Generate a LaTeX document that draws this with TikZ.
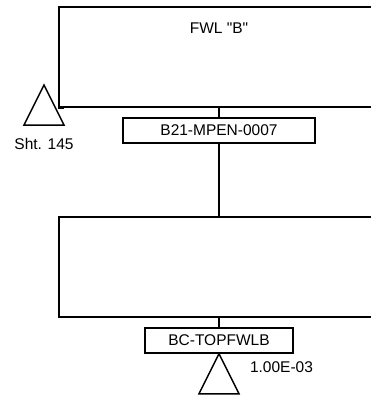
\documentclass[tikz,border=0pt]{standalone}
\usepackage{fontspec}
\setmainfont{Liberation Sans}
\usetikzlibrary{calc,positioning}
\tikzset{
    gatebox/.style={
        rectangle,
        draw=black,
        line width=1.5pt,
        minimum width=320pt,
        minimum height=100pt,
        inner sep=0pt
    },
    eventbox/.style={
        rectangle,
        draw=black,
        line width=1.5pt,
        minimum height=25pt,
        inner sep=2pt,
        font=\fontsize{15.5}{18}\selectfont
    },
    textlabel/.style={
        font=\fontsize{15.5}{18}\selectfont,
        inner sep=0pt
    },
    wire/.style={
        line width=1.5pt
    }
}

\begin{document}
\begin{tikzpicture}[x=1pt, y=-1pt]
    \useasboundingbox (0,0) rectangle (371,396);
    \clip (0,0) rectangle (371,396);

    % Top gate with transfer to sheet 145
    \node[gatebox] (gateB) at (219,57) {};
    \node[textlabel] (gateBtext) at (219,28) {FWL \textquotedbl B\textquotedbl};
    \coordinate (sheetapex) at (44,85);
    \draw[wire] (sheetapex) -- ++(20,40) -- ++(-40,0) -- cycle;
    \node[textlabel] (sheetlabel) at (44,144) {Sht. 145};
    \draw[line width=2.2pt] (gateB.south west) -- ++(6,0);

    % Event under the top gate
    \node[eventbox, minimum width=192pt] (mpen) at (219,130.5) {B21-MPEN-0007};

    % Second gate
    \node[gatebox] (gateBC) at (219,267) {};

    % Basic event
    \node[eventbox, minimum width=148pt] (topfwlb) at (219,340.5) {BC-TOPFWLB};
    \draw[wire] (topfwlb.south) -- ++(20,40) -- ++(-40,0) -- cycle;
    \node[textlabel] (prob) at (281.5,367) {1.00E-03};

    % Connectors
    \draw[wire] (gateB.south) -- (mpen.north);
    \draw[wire] (mpen.south) -- (gateBC.north);
    \draw[wire] (gateBC.south) -- (topfwlb.north);
\end{tikzpicture}
\end{document}
